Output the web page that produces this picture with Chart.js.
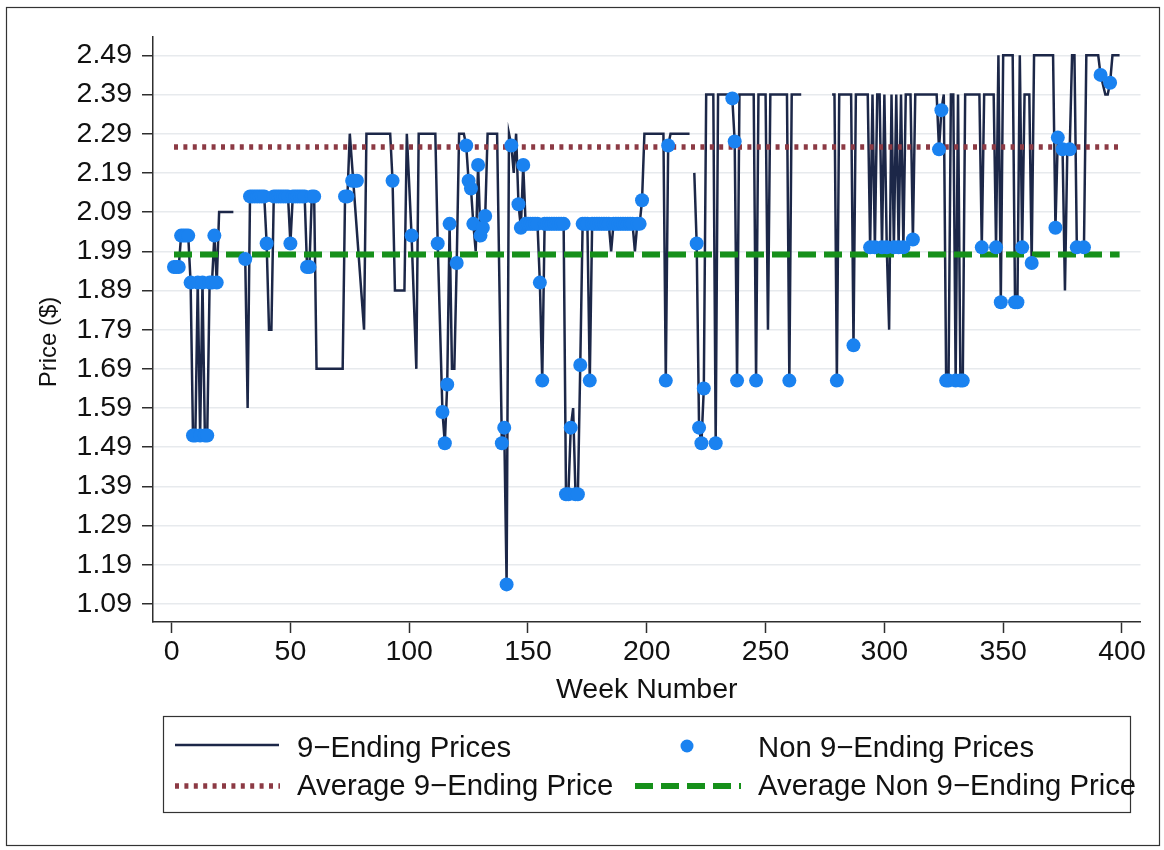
<!DOCTYPE html>
<html>
<head>
<meta charset="utf-8">
<title>Weekly Price: 9-Ending vs Non 9-Ending</title>
<script src="https://cdn.jsdelivr.net/npm/chart.js@4.4.1/dist/chart.umd.min.js"></script>
<style>
  html, body { margin: 0; padding: 0; background: #ffffff; }
  canvas { display: block; }
</style>
</head>
<body>
<canvas id="priceChart" width="1164" height="850"></canvas>
<script>
// ---- axis ticks ----
const weekTicks = [0, 50, 100, 150, 200, 250, 300, 350, 400];
const priceTicks = [1.09, 1.19, 1.29, 1.39, 1.49, 1.59, 1.69, 1.79, 1.89, 1.99, 2.09, 2.19, 2.29, 2.39, 2.49];

// ---- weekly price path (vertices; null marks weeks with no observation) ----
const lineWeeks = [
  1, 2, 3, 4, 5, 6, 7, 8, 9, 10, 11, 12, 13, 14, 15, 16, 17, 18, 19, 20, 26, 27,
  31, 32, 33, 39, 40, 41, 42, 43, 49, 50, 51, 56, 57, 58, 59, 60, 61, 72, 73, 74, 75, 81, 82, 92, 93, 94, 98,
  99, 101, 103, 104, 111, 112, 114, 115, 116, 117, 118, 119, 120, 121, 123, 124, 125, 126, 127, 128, 129, 130, 131, 132, 133, 137,
  139, 140, 141, 142, 143, 144, 145, 146, 147, 148, 149, 154, 155, 156, 157, 165, 166, 167, 168, 169, 170, 171, 172, 173, 175,
  176, 177, 184, 185, 186, 194, 195, 196, 197, 198, 199, 207, 208, 209, 210, 218, 219,
  220, 221, 222, 223, 224, 225, 228, 229, 230, 235, 236, 237, 238, 239, 245, 246, 247, 250, 251, 252, 259, 260, 261, 265, 266,
  278, 279, 280, 281, 286, 287, 288, 293, 294, 295, 296, 297, 298, 299, 300, 301, 302, 303, 304, 305, 306, 307, 308, 309, 311,
  312, 313, 322, 323, 324, 325, 326, 327, 328, 329, 330, 331, 332, 333, 334, 340, 341, 342, 346, 347, 348, 349, 350, 354, 355,
  356, 357, 358, 359, 361, 362, 363, 371, 372, 373, 375, 376, 377, 378, 379, 380, 381, 384, 385, 390, 391, 393, 394, 395, 396, 399
];
const linePrices = [
  1.95, 1.95, 1.95, 2.03, 2.03, 2.03, 2.03, 1.91, 1.52, 1.52, 1.91, 1.52, 1.91, 1.52, 1.52, 1.91, 1.91, 2.03, 1.91, 2.09, 2.09, null,
  1.97, 1.59, 2.13, 2.13, 2.01, 1.79, 1.79, 2.13, 2.13, 2.01, 2.13, 2.13, 1.95, 1.95, 2.13, 2.13, 1.69, 1.69, 2.13, 2.13, 2.29, 1.79, 2.29, 2.29, 2.17, 1.89, 1.89,
  2.29, 2.03, 1.69, 2.29, 2.29, 2.01, 1.58, 1.50, 1.65, 2.06, 1.69, 1.69, 1.96, 2.29, 2.29, 2.26, 2.17, 2.15, 2.06, 1.99, 2.21, 2.03, 2.05, 2.08, 2.29, 2.29,
  1.50, 1.54, 1.14, 2.29, 2.26, 2.19, 2.29, 2.11, 2.05, 2.21, 2.06, 2.06, 1.91, 1.66, 2.06, 2.06, 1.37, 1.37, 1.54, 1.59, 1.37, 1.37, 1.70, 2.06, 2.06,
  1.66, 2.06, 2.06, 1.99, 2.06, 2.06, 1.99, 2.06, 2.06, 2.12, 2.29, 2.29, 1.66, 2.26, 2.29, 2.29, null,
  2.19, 2.01, 1.54, 1.50, 1.64, 2.39, 2.39, 1.50, 2.39, 2.39, 2.38, 2.27, 1.66, 2.39, 2.39, 1.66, 2.39, 2.39, 1.79, 2.39, 2.39, 1.66, 2.39, 2.39, null,
  2.39, 2.39, 1.66, 2.39, 2.39, 1.75, 2.39, 2.39, 2.00, 2.39, 2.00, 2.39, 2.39, 2.00, 2.39, 2.00, 1.79, 2.39, 2.00, 2.39, 2.00, 2.39, 2.00, 2.39, 2.39,
  2.02, 2.39, 2.39, 2.25, 2.35, 2.39, 1.66, 1.66, 2.39, 2.39, 1.66, 2.39, 1.66, 1.66, 2.39, 2.39, 2.00, 2.39, 2.39, 2.00, 2.49, 1.86, 2.49, 2.49, 1.86,
  1.86, 2.49, 2.00, 2.39, 2.39, 1.96, 2.49, 2.49, 2.05, 2.28, 2.25, 1.89, 2.25, 2.25, 2.49, 2.49, 2.00, 2.00, 2.49, 2.49, 2.44, 2.39, 2.39, 2.42, 2.49, 2.49
];

// ---- weeks whose price did not end in 9 ----
const dotWeeks = [
  1, 2, 3, 4, 5, 6, 7, 8, 9, 10, 11, 12, 13, 14, 15, 16, 17, 18, 19,
  31, 33, 34, 35, 36, 37, 38, 39, 40, 43, 44, 45, 46, 47, 48, 49, 50, 51, 52, 53, 54, 55, 56, 57, 58, 59, 60,
  73, 74, 76, 77, 78, 93,
  101, 112, 114, 115, 116, 117, 120, 124, 125, 126, 127, 129, 130, 131, 132,
  139, 140, 141, 143, 146, 147, 148,
  149, 150, 151, 152, 153, 154, 155, 156, 157, 158, 159, 160, 161, 162, 163, 164, 165,
  166, 167, 168, 170, 171, 172, 173, 174, 175, 176,
  177, 178, 179, 180, 181, 182, 183, 184, 186, 187, 188, 189, 190, 191, 192, 193, 194, 196, 197, 198,
  208, 209, 221, 222, 223, 224, 229, 236, 237, 238, 246, 260, 280, 287,
  294, 296, 299, 301, 304, 306, 308, 312, 323, 324, 326, 327, 330, 332, 333,
  341, 347, 349, 355, 356, 358, 362, 372, 373, 375, 378, 381, 384, 391, 395
];
const dotPrices = [
  1.95, 1.95, 1.95, 2.03, 2.03, 2.03, 2.03, 1.91, 1.52, 1.52, 1.91, 1.52, 1.91, 1.52, 1.52, 1.91, 1.91, 2.03, 1.91,
  1.97, 2.13, 2.13, 2.13, 2.13, 2.13, 2.13, 2.13, 2.01, 2.13, 2.13, 2.13, 2.13, 2.13, 2.13, 2.13, 2.01, 2.13, 2.13, 2.13, 2.13, 2.13, 2.13, 1.95, 1.95, 2.13, 2.13,
  2.13, 2.13, 2.17, 2.17, 2.17, 2.17,
  2.03, 2.01, 1.58, 1.50, 1.65, 2.06, 1.96, 2.26, 2.17, 2.15, 2.06, 2.21, 2.03, 2.05, 2.08,
  1.50, 1.54, 1.14, 2.26, 2.11, 2.05, 2.21,
  2.06, 2.06, 2.06, 2.06, 2.06, 2.06, 1.91, 1.66, 2.06, 2.06, 2.06, 2.06, 2.06, 2.06, 2.06, 2.06, 2.06,
  1.37, 1.37, 1.54, 1.37, 1.37, 1.70, 2.06, 2.06, 2.06, 1.66,
  2.06, 2.06, 2.06, 2.06, 2.06, 2.06, 2.06, 2.06, 2.06, 2.06, 2.06, 2.06, 2.06, 2.06, 2.06, 2.06, 2.06, 2.06, 2.06, 2.12,
  1.66, 2.26, 2.01, 1.54, 1.50, 1.64, 1.50, 2.38, 2.27, 1.66, 1.66, 1.66, 1.66, 1.75,
  2.00, 2.00, 2.00, 2.00, 2.00, 2.00, 2.00, 2.02, 2.25, 2.35, 1.66, 1.66, 1.66, 1.66, 1.66,
  2.00, 2.00, 1.86, 1.86, 1.86, 2.00, 1.96, 2.05, 2.28, 2.25, 2.25, 2.00, 2.00, 2.44, 2.42
];

// ---- period averages ----
const avgWeeks = [1, 399];
const avgNineEnding = 2.256;
const avgNonNineEnding = 1.982;

// ---- styling ----
const FONT = "'Liberation Sans', Arial, Helvetica, sans-serif";
const INK = '#111111';
const NAVY = '#1c2748';
const DOT_BLUE = '#1a82f0';
const AVG9_RED = '#8c3a44';
const AVGN_GREEN = '#16901a';
const AXIS = '#2e2e2e';
const GRID = '#e7eaed';

const lineData = lineWeeks.map((w, i) => ({ x: w, y: linePrices[i] }));
const dotData = dotWeeks.map((w, i) => ({ x: w, y: dotPrices[i] }));
const avg9Data = avgWeeks.map(w => ({ x: w, y: avgNineEnding }));
const avgNData = avgWeeks.map(w => ({ x: w, y: avgNonNineEnding }));

// white page, thin outer frame and the rotated y-axis title
const pagePlugin = {
  id: 'page',
  beforeDraw(chart) {
    const c = chart.ctx;
    c.save();
    c.fillStyle = '#ffffff';
    c.fillRect(0, 0, chart.width, chart.height);
    c.restore();
  },
  afterDraw(chart) {
    const c = chart.ctx;
    c.save();
    c.strokeStyle = '#333333';
    c.lineWidth = 1.2;
    c.strokeRect(6.5, 7.5, 1153, 838);

    c.translate(49, 342);
    c.rotate(-Math.PI / 2);
    c.fillStyle = INK;
    c.font = '24px ' + FONT;
    c.textAlign = 'center';
    c.textBaseline = 'middle';
    c.fillText('Price ($)', 0, 0);
    c.restore();
  }
};

// two-column key in a box below the axis title
const keyPlugin = {
  id: 'boxKey',
  afterDraw(chart) {
    const c = chart.ctx;
    c.save();
    c.strokeStyle = '#333333';
    c.lineWidth = 1.2;
    c.strokeRect(163.5, 716.5, 967, 96);

    const row1 = 745, row2 = 786;
    const base1 = 757, base2 = 795;

    // row 1: price path and non-9 dots
    c.strokeStyle = NAVY;
    c.lineWidth = 2.5;
    c.setLineDash([]);
    c.beginPath(); c.moveTo(175, row1); c.lineTo(279, row1); c.stroke();

    c.fillStyle = DOT_BLUE;
    c.beginPath(); c.arc(687, row1 + 1, 6.5, 0, Math.PI * 2); c.fill();

    // row 2: averages
    c.strokeStyle = AVG9_RED;
    c.lineWidth = 5.5;
    c.setLineDash([4, 5.4]);
    c.beginPath(); c.moveTo(175, row2); c.lineTo(280, row2); c.stroke();

    c.strokeStyle = AVGN_GREEN;
    c.lineWidth = 6;
    c.setLineDash([18, 8]);
    c.beginPath(); c.moveTo(635, row2); c.lineTo(741, row2); c.stroke();
    c.setLineDash([]);

    c.fillStyle = INK;
    c.font = '29.3px ' + FONT;
    c.textAlign = 'left';
    c.textBaseline = 'alphabetic';
    c.fillText('9\u2212Ending Prices', 297, base1);
    c.fillText('Non 9\u2212Ending Prices', 758, base1);
    c.fillText('Average 9\u2212Ending Price', 297, base2);
    c.fillText('Average Non 9\u2212Ending Price', 758, base2);
    c.restore();
  }
};

new Chart(document.getElementById('priceChart'), {
  type: 'line',
  data: {
    datasets: [
      {
        label: '9\u2212Ending Prices',
        data: lineData,
        borderColor: NAVY,
        borderWidth: 2.5,
        pointRadius: 0,
        tension: 0,
        spanGaps: false,
        order: 3
      },
      {
        label: 'Average 9\u2212Ending Price',
        data: avg9Data,
        borderColor: AVG9_RED,
        borderWidth: 5.5,
        borderDash: [4, 5.4],
        borderCapStyle: 'butt',
        pointRadius: 0,
        order: 2
      },
      {
        label: 'Average Non 9\u2212Ending Price',
        data: avgNData,
        borderColor: AVGN_GREEN,
        borderWidth: 6,
        borderDash: [18, 8],
        borderCapStyle: 'butt',
        pointRadius: 0,
        order: 2
      },
      {
        label: 'Non 9\u2212Ending Prices',
        data: dotData,
        showLine: false,
        pointRadius: 7,
        pointBackgroundColor: DOT_BLUE,
        pointBorderWidth: 0,
        pointBorderColor: DOT_BLUE,
        order: 1
      }
    ]
  },
  options: {
    responsive: false,
    animation: false,
    devicePixelRatio: 1,
    events: [],
    layout: { padding: { top: 37, right: 23.5, bottom: 0, left: 0 } },
    plugins: {
      legend: { display: false },
      tooltip: { enabled: false }
    },
    scales: {
      x: {
        type: 'linear',
        position: 'bottom',
        min: -7.83,
        max: 407.8,
        afterBuildTicks: (scale) => { scale.ticks = weekTicks.map(v => ({ value: v })); },
        afterFit: (scale) => { scale.height = 228; },
        grid: {
          drawOnChartArea: false,
          drawTicks: true,
          tickLength: 11,
          tickColor: AXIS,
          tickWidth: 1.5
        },
        border: { display: true, color: AXIS, width: 1.5 },
        ticks: {
          color: INK,
          font: { family: FONT, size: 28.5 },
          padding: 2,
          maxRotation: 0,
          autoSkip: false,
          callback: (v) => String(v)
        },
        title: {
          display: true,
          text: 'Week Number',
          color: INK,
          font: { family: FONT, size: 28.5 },
          padding: { top: 0, bottom: 143 }
        }
      },
      y: {
        type: 'linear',
        position: 'left',
        min: 1.0441,
        max: 2.5367,
        afterBuildTicks: (scale) => { scale.ticks = priceTicks.map(v => ({ value: v })); },
        afterFit: (scale) => { scale.width = 153; },
        grid: {
          drawOnChartArea: true,
          color: GRID,
          lineWidth: 1.5,
          drawTicks: true,
          tickLength: 11,
          tickColor: AXIS,
          tickWidth: 1.5
        },
        border: { display: true, color: AXIS, width: 1.5 },
        ticks: {
          color: INK,
          font: { family: FONT, size: 28.5 },
          padding: 10,
          autoSkip: false,
          callback: (v) => Number(v).toFixed(2)
        },
        title: { display: false }
      }
    }
  },
  plugins: [pagePlugin, keyPlugin]
});
</script>
</body>
</html>
